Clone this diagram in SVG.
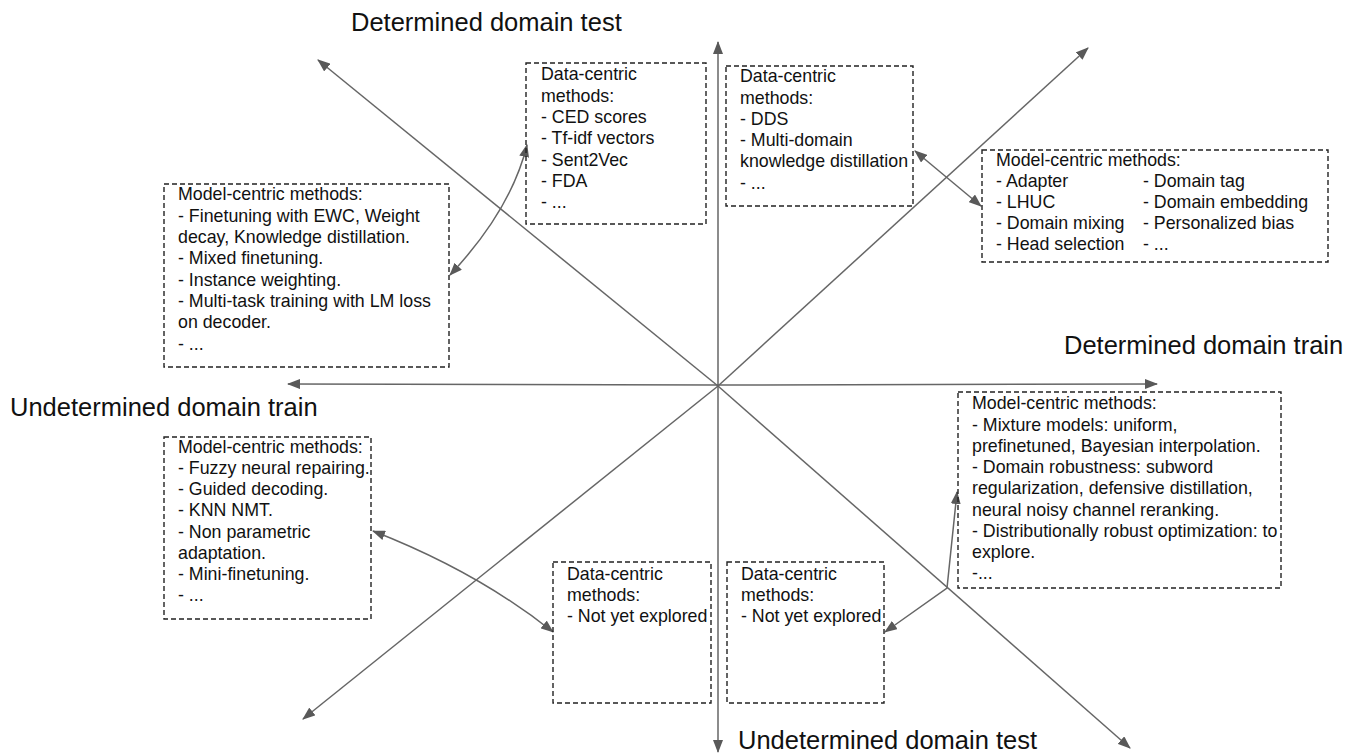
<svg xmlns="http://www.w3.org/2000/svg" width="1360" height="755" viewBox="0 0 1360 755">
<style>
  .box{fill:none;stroke:#222;stroke-width:1.4;stroke-dasharray:5 3}
  .t{font-family:"Liberation Sans",Arial,sans-serif;font-size:17.8px;fill:#111}
  .title{font-family:"Liberation Sans",Arial,sans-serif;font-size:25.5px;fill:#111}
  .ax{fill:none;stroke:#666;stroke-width:1.5}
</style>
<defs>
  <marker id="ah" viewBox="0 0 13 10" refX="12" refY="5" markerWidth="13" markerHeight="10" markerUnits="userSpaceOnUse" orient="auto-start-reverse">
    <path d="M0,0 L13,5 L0,10 z" fill="#595959"/>
  </marker>
</defs>
<rect width="1360" height="755" fill="#fff"/>

<g id="connectors">
  <line class="ax" x1="718" y1="386" x2="718" y2="42" marker-end="url(#ah)"/>
  <line class="ax" x1="718" y1="386" x2="718" y2="752" marker-end="url(#ah)"/>
  <line class="ax" x1="718" y1="385" x2="288" y2="384" marker-end="url(#ah)"/>
  <line class="ax" x1="718" y1="385" x2="1157" y2="384" marker-end="url(#ah)"/>
  <line class="ax" x1="718" y1="386" x2="318" y2="60" marker-end="url(#ah)"/>
  <line class="ax" x1="718" y1="386" x2="1130" y2="748" marker-end="url(#ah)"/>
  <line class="ax" x1="718" y1="386" x2="1088" y2="48" marker-end="url(#ah)"/>
  <line class="ax" x1="718" y1="386" x2="303" y2="719" marker-end="url(#ah)"/>
  <path class="ax" d="M450,275 Q511,210 527,145" marker-start="url(#ah)" marker-end="url(#ah)"/>
  <line class="ax" x1="915" y1="151" x2="981" y2="206" marker-start="url(#ah)" marker-end="url(#ah)"/>
  <path class="ax" d="M373,531 Q478,572 553,632" marker-start="url(#ah)" marker-end="url(#ah)"/>
  <path class="ax" d="M885,632 L947,588 L957,492" marker-start="url(#ah)" marker-end="url(#ah)"/>
</g>

<g id="titles">
  <text class="title" x="351" y="31">Determined domain test</text>
  <text class="title" x="1064" y="354">Determined domain train</text>
  <text class="title" x="10" y="416">Undetermined domain train</text>
  <text class="title" x="738" y="749">Undetermined domain test</text>
</g>

<g id="data-top-left">
  <rect class="box" x="526" y="63" width="180" height="161"/>
  <text class="t" x="541" y="80">Data-centric</text>
  <text class="t" x="541" y="102">methods:</text>
  <text class="t" x="541" y="123">- CED scores</text>
  <text class="t" x="541" y="144">- Tf-idf vectors</text>
  <text class="t" x="541" y="166">- Sent2Vec</text>
  <text class="t" x="541" y="187">- FDA</text>
  <text class="t" x="541" y="208">- ...</text>
</g>

<g id="data-top-right">
  <rect class="box" x="726" y="66" width="187" height="140"/>
  <text class="t" x="740" y="82">Data-centric</text>
  <text class="t" x="740" y="104">methods:</text>
  <text class="t" x="740" y="125">- DDS</text>
  <text class="t" x="740" y="146">- Multi-domain</text>
  <text class="t" x="740" y="167">knowledge distillation</text>
  <text class="t" x="740" y="189">- ...</text>
</g>

<g id="model-top-right">
  <rect class="box" x="982" y="150" width="346" height="112"/>
  <text class="t" x="996" y="166">Model-centric methods:</text>
  <text class="t" x="996" y="187">- Adapter</text>
  <text class="t" x="996" y="208">- LHUC</text>
  <text class="t" x="996" y="229">- Domain mixing</text>
  <text class="t" x="996" y="250">- Head selection</text>
  <text class="t" x="1143" y="187">- Domain tag</text>
  <text class="t" x="1143" y="208">- Domain embedding</text>
  <text class="t" x="1143" y="229">- Personalized bias</text>
  <text class="t" x="1143" y="250">- ...</text>
</g>

<g id="model-top-left">
  <rect class="box" x="164" y="184" width="285" height="183"/>
  <text class="t" x="178" y="200">Model-centric methods:</text>
  <text class="t" x="178" y="222">- Finetuning with EWC, Weight</text>
  <text class="t" x="178" y="243">decay, Knowledge distillation.</text>
  <text class="t" x="178" y="264">- Mixed finetuning.</text>
  <text class="t" x="178" y="286">- Instance weighting.</text>
  <text class="t" x="178" y="307">- Multi-task training with LM loss</text>
  <text class="t" x="178" y="328">on decoder.</text>
  <text class="t" x="178" y="350">- ...</text>
</g>

<g id="model-bottom-left">
  <rect class="box" x="164" y="437" width="207" height="182"/>
  <text class="t" x="178" y="453">Model-centric methods:</text>
  <text class="t" x="178" y="474">- Fuzzy neural repairing.</text>
  <text class="t" x="178" y="495">- Guided decoding.</text>
  <text class="t" x="178" y="516">- KNN NMT.</text>
  <text class="t" x="178" y="538">- Non parametric</text>
  <text class="t" x="178" y="559">adaptation.</text>
  <text class="t" x="178" y="580">- Mini-finetuning.</text>
  <text class="t" x="178" y="601">- ...</text>
</g>

<g id="data-bottom-left">
  <rect class="box" x="553" y="562" width="158" height="141"/>
  <text class="t" x="567" y="580">Data-centric</text>
  <text class="t" x="567" y="601">methods:</text>
  <text class="t" x="567" y="622">- Not yet explored</text>
</g>

<g id="data-bottom-right">
  <rect class="box" x="727" y="562" width="157" height="141"/>
  <text class="t" x="741" y="580">Data-centric</text>
  <text class="t" x="741" y="601">methods:</text>
  <text class="t" x="741" y="622">- Not yet explored</text>
</g>

<g id="model-bottom-right">
  <rect class="box" x="958" y="392" width="323" height="196"/>
  <text class="t" x="972" y="409">Model-centric methods:</text>
  <text class="t" x="972" y="431">- Mixture models: uniform,</text>
  <text class="t" x="972" y="452">prefinetuned, Bayesian interpolation.</text>
  <text class="t" x="972" y="473">- Domain robustness: subword</text>
  <text class="t" x="972" y="494">regularization, defensive distillation,</text>
  <text class="t" x="972" y="516">neural noisy channel reranking.</text>
  <text class="t" x="972" y="537">- Distributionally robust optimization: to</text>
  <text class="t" x="972" y="558">explore.</text>
  <text class="t" x="972" y="579">-...</text>
</g>
</svg>
